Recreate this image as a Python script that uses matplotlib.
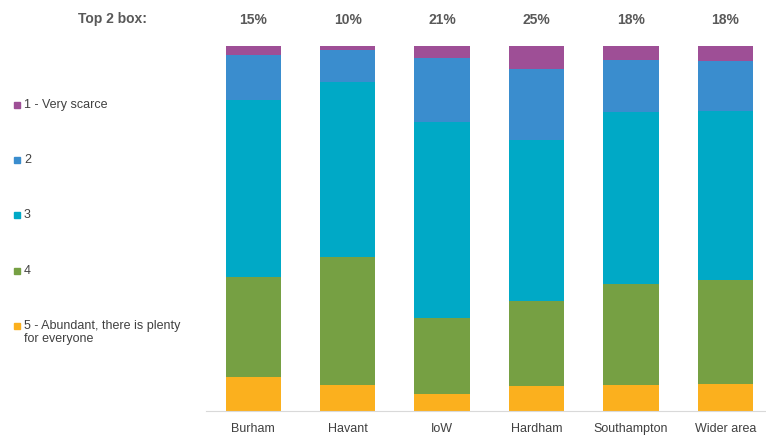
import numpy as np
import matplotlib.pyplot as plt
from matplotlib.patches import Rectangle

plt.rcParams['font.family'] = ['Liberation Sans', 'DejaVu Sans']

areas = ["Burham", "Havant", "IoW", "Hardham", "Southampton", "Wider area"]
top2 = ["15%", "10%", "21%", "25%", "18%", "18%"]

# share of answers, %
very_scarce = [2.5, 1.0, 3.4, 6.3, 3.8, 4.0]
two = [12.3, 9.0, 17.5, 19.5, 14.2, 13.9]
three = [48.6, 48.0, 53.8, 44.2, 47.3, 46.2]
four = [27.4, 35.0, 20.9, 23.4, 27.7, 28.7]
abundant = [9.2, 7.0, 4.4, 6.6, 7.0, 7.2]

labels = ["1 - Very scarce", "2", "3", "4",
          "5 - Abundant, there is plenty\nfor everyone"]
colors = ["#9E4F96", "#3A8DCE", "#00A9C6", "#76A043", "#FBB01E"]

fig = plt.figure(figsize=(7.66, 4.39), dpi=100)
ax = fig.add_axes([206 / 766, 1 - 411.5 / 439, 560 / 766, 364.5 / 439])

x = np.arange(len(areas))
series = [abundant, four, three, two, very_scarce]
bottom = np.zeros(len(areas))
for vals, c in zip(series, colors[::-1]):
    v = np.array(vals)
    ax.bar(x, v, 0.585, bottom=bottom, color=c)
    bottom += v

ax.set_xlim(-0.5, 5.43)
ax.set_ylim(0, 100)
ax.set_yticks([])
for s in ["top", "right", "left"]:
    ax.spines[s].set_visible(False)
ax.spines["bottom"].set_color("#d9d9d9")
ax.set_xticks(x)
ax.set_xticklabels(areas, fontsize=9, color="#404040")
ax.tick_params(axis="x", length=0, pad=8)

# top 2 box row
bold_font = dict(fontsize=10, fontweight="bold", color="#595959")
for xi, t in zip(x, top2):
    ax.annotate(t, (xi, 1.0), xycoords=ax.get_xaxis_transform(),
                xytext=(0, 27), textcoords="offset pixels", ha="center",
                va="center", **bold_font)
fig.text(113 / 766, 1 - 19 / 439, "Top 2 box:", ha="center", va="center",
         **bold_font)

# legend on the left
leg_y = [106, 161, 216, 272, 327]
for lab, c, yy in zip(labels, colors, leg_y):
    fig.add_artist(Rectangle((14 / 766, 1 - (yy + 3) / 439), 6 / 766, 6 / 439,
                             transform=fig.transFigure, color=c))
    fig.text(24 / 766, 1 - (yy - 7) / 439, lab, ha="left", va="top",
             fontsize=9, color="#404040", linespacing=1.15)

fig.savefig("out.png", dpi=100)
